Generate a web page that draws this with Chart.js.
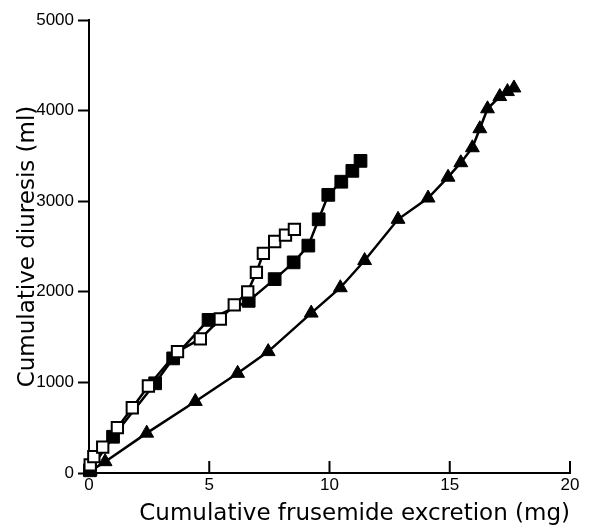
<!DOCTYPE html>
<html>
<head>
<meta charset="utf-8">
<script src="https://cdn.jsdelivr.net/npm/chart.js@4.4.0/dist/chart.umd.min.js"></script>
<style>
    html, body { margin: 0; padding: 0; background: #fff; }
    #wrap { width: 605px; height: 526px; }
</style>
</head>
<body>
<div id="wrap"><canvas id="chart" width="605" height="526"></canvas></div>
<script>
// Cumulative frusemide excretion (mg) vs cumulative diuresis (ml)
const openX = [0.05, 0.2, 0.57, 1.18, 1.8, 2.47, 3.68, 4.63, 5.46, 6.04, 6.6, 6.96, 7.25, 7.72, 8.17, 8.54];
const openY = [90, 180, 285, 500, 720, 960, 1340, 1480, 1700, 1855, 2000, 2215, 2425, 2555, 2625, 2690];

const filledX = [0.04, 1.0, 2.75, 3.5, 4.97, 6.64, 7.72, 8.51, 9.12, 9.55, 9.95, 10.49, 10.95, 11.29];
const filledY = [30, 400, 990, 1265, 1690, 1900, 2140, 2325, 2510, 2800, 3070, 3215, 3335, 3445];

const triX = [0.05, 0.67, 2.4, 4.42, 6.18, 7.45, 9.24, 10.45, 11.46, 12.85, 14.1, 14.93, 15.46, 15.94, 16.25, 16.57, 17.08, 17.4, 17.67];
const triY = [20, 125, 440, 790, 1100, 1340, 1765, 2045, 2345, 2800, 3035, 3265, 3425, 3590, 3800, 4020, 4155, 4210, 4250];

const xTicks = [0, 5, 10, 15, 20];
const yTicks = [0, 1000, 2000, 3000, 4000, 5000];

const toPoints = (xs, ys) => xs.map((x, i) => ({ x: x, y: ys[i] }));

// x axis ticks point inwards (up from the axis line)
const innerTicks = {
    id: 'innerTicks',
    beforeDatasetsDraw(chart) {
        const scale = chart.scales.x;
        const ctx = chart.ctx;
        ctx.save();
        ctx.strokeStyle = '#000';
        ctx.lineWidth = 2;
        scale.ticks.forEach(t => {
            if (t.value === 0) return;
            const px = scale.getPixelForValue(t.value);
            ctx.beginPath();
            ctx.moveTo(px, scale.top);
            ctx.lineTo(px, scale.top - 12);
            ctx.stroke();
        });
        ctx.restore();
    }
};

const tickFont = { family: '"Liberation Sans", Arial, sans-serif', size: 17 };
const titleFont = { family: '"DejaVu Sans", sans-serif', size: 23 };

new Chart(document.getElementById('chart'), {
    type: 'scatter',
    data: {
        datasets: [
            {
                data: toPoints(openX, openY),
                showLine: true,
                borderColor: '#000',
                borderWidth: 2.5,
                pointStyle: 'rect',
                pointRadius: 8,
                pointBackgroundColor: '#fff',
                pointBorderColor: '#000',
                pointBorderWidth: 2,
                clip: false,
                order: 0
            },
            {
                data: toPoints(filledX, filledY),
                showLine: true,
                borderColor: '#000',
                borderWidth: 2.5,
                pointStyle: 'rect',
                pointRadius: 9,
                pointBackgroundColor: '#000',
                pointBorderColor: '#000',
                pointBorderWidth: 1,
                clip: false,
                order: 1
            },
            {
                data: toPoints(triX, triY),
                showLine: true,
                borderColor: '#000',
                borderWidth: 2.5,
                pointStyle: 'triangle',
                pointRadius: 8,
                pointBackgroundColor: '#000',
                pointBorderColor: '#000',
                pointBorderWidth: 1,
                clip: false,
                order: 2
            }
        ]
    },
    options: {
        responsive: false,
        animation: false,
        layout: { padding: { top: 20, right: 35, left: 0, bottom: 0 } },
        plugins: {
            legend: { display: false },
            tooltip: { enabled: false }
        },
        scales: {
            x: {
                type: 'linear',
                min: 0,
                max: 20,
                afterBuildTicks: s => { s.ticks = xTicks.map(v => ({ value: v })); },
                afterFit: s => { s.height = 53; },
                grid: { display: false },
                border: { display: true, color: '#000', width: 2 },
                ticks: {
                    color: '#000',
                    font: tickFont,
                    padding: -6,
                    maxRotation: 0,
                    callback: v => String(v)
                },
                title: {
                    display: true,
                    text: 'Cumulative frusemide excretion (mg)',
                    color: '#000',
                    font: titleFont,
                    align: 'end',
                    padding: { top: 0, bottom: -2 }
                }
            },
            y: {
                type: 'linear',
                min: 0,
                max: 5000,
                afterBuildTicks: s => { s.ticks = yTicks.map(v => ({ value: v })); },
                afterFit: s => { s.width = 89; },
                grid: {
                    drawOnChartArea: false,
                    drawTicks: true,
                    tickLength: 11,
                    tickWidth: 2,
                    tickColor: '#000'
                },
                border: { display: true, color: '#000', width: 2 },
                ticks: {
                    color: '#000',
                    font: tickFont,
                    padding: 4,
                    callback: v => String(v)
                },
                title: {
                    display: true,
                    text: 'Cumulative diuresis (ml)',
                    color: '#000',
                    font: titleFont,
                    padding: { top: 14, bottom: 0 }
                }
            }
        }
    },
    plugins: [innerTicks]
});
</script>
</body>
</html>
